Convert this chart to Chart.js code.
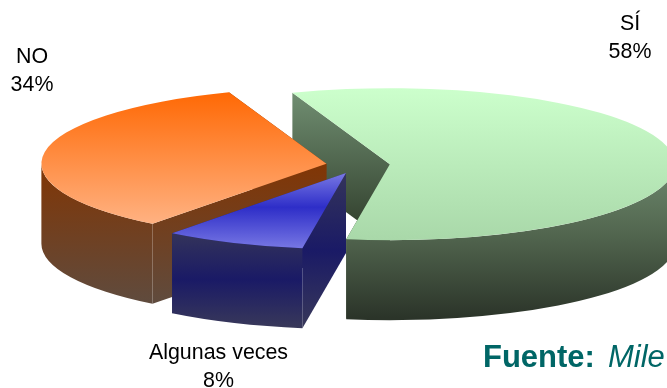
<!DOCTYPE html>
<html>
<head>
<meta charset="utf-8">
<script src="https://cdn.jsdelivr.net/npm/chart.js@4"></script>
<style>
  html, body { margin: 0; padding: 0; background: #fff; overflow: hidden; }
  canvas { display: block; }
</style>
</head>
<body>
<canvas id="pie" width="667" height="388"></canvas>
<script>
const labels = ['SÍ', 'Algunas veces', 'NO']
const values = [58, 8, 34]

// top face gradients: from/to are in ellipse units, -1 top edge, 1 bottom edge
const topFaces = [
  { from: -1, to: 1, stops: [[0, '#ccffcc'], [1, '#a9d8a9']] },
  { from: 0, to: 1, stops: [[0, '#7878e4'], [0.45, '#2e2ec8'], [1, '#7878e4']] },
  { from: -1, to: 0.75, stops: [[0, '#ff6600'], [1, '#ffb07f']] }
]
// side gradients, y in pixels
const outerWalls = [
  { y0: 165, y1: 318, stops: [[0, '#6c876c'], [0.45, '#52664f'], [1, '#2b3429']] },
  { y0: 232, y1: 327, stops: [[0, '#34345a'], [0.5, '#1a1a66'], [1, '#38385a']] },
  { y0: 160, y1: 304, stops: [[0, '#823503'], [1, '#5f4b3e']] }
]
const cutWalls = [
  { y0: 93, y1: 222, stops: [[0, '#708e71'], [1, '#354431']] },
  { y0: 173, y1: 327, stops: [[0, '#34345a'], [0.5, '#1a1a66'], [1, '#38385a']] },
  { y0: 160, y1: 304, stops: [[0, '#823503'], [1, '#5f4b3e']] }
]

const pieX = 359
const pieY = 165
const radiusX = 285
const radiusY = 76
const depth = 80
const explode = [31, 33, 33]
const paintOrder = [0, 2, 1]

const labelSpots = [
  { x: 630, y: 30 },
  { x: 218.5, y: 359 },
  { x: 32, y: 63 }
]

function vertical(ctx, w) {
  const g = ctx.createLinearGradient(0, w.y0, 0, w.y1)
  w.stops.forEach((s) => g.addColorStop(s[0], s[1]))
  return g
}

function topGradient(c) {
  const area = c.chart.chartArea
  if (!area) return '#ccc'
  const face = topFaces[c.dataIndex]
  const mid = (area.top + area.bottom) / 2
  const r = Math.min(area.right - area.left, area.bottom - area.top) / 2
  const g = c.chart.ctx.createLinearGradient(0, mid + face.from * r, 0, mid + face.to * r)
  face.stops.forEach((s) => g.addColorStop(s[0], s[1]))
  return g
}

function drawSlice(ctx, arc, i) {
  const mid = (arc.startAngle + arc.endAngle) / 2
  const cx = pieX + Math.cos(mid) * explode[i]
  const cy = pieY + Math.sin(mid) * explode[i] * radiusY / radiusX
  const ex = (a) => cx + Math.cos(a) * radiusX
  const ey = (a) => cy + Math.sin(a) * radiusY

  // cut faces
  ctx.fillStyle = vertical(ctx, cutWalls[i])
  ;[arc.startAngle, arc.endAngle].forEach((a) => {
    ctx.beginPath()
    ctx.moveTo(cx, cy)
    ctx.lineTo(ex(a), ey(a))
    ctx.lineTo(ex(a), ey(a) + depth)
    ctx.lineTo(cx, cy + depth)
    ctx.closePath()
    ctx.fill()
  })

  // rim, front half only
  const a0 = Math.max(arc.startAngle, 0)
  const a1 = Math.min(arc.endAngle, Math.PI)
  ctx.fillStyle = vertical(ctx, outerWalls[i])
  ctx.beginPath()
  ctx.ellipse(cx, cy, radiusX, radiusY, 0, a0, a1)
  ctx.ellipse(cx, cy + depth, radiusX, radiusY, 0, a1, a0, true)
  ctx.closePath()
  ctx.fill()

  // top face is the library's own arc, squashed
  ctx.save()
  ctx.translate(cx, cy)
  ctx.scale(radiusX / arc.outerRadius, radiusY / arc.outerRadius)
  ctx.translate(-arc.x, -arc.y)
  arc.draw(ctx)
  ctx.restore()
}

const pie3d = {
  id: 'pie3d',
  beforeDatasetDraw() {
    return false
  },
  afterDatasetsDraw(chart) {
    const arcs = chart.getDatasetMeta(0).data
    paintOrder.forEach((i) => drawSlice(chart.ctx, arcs[i], i))
  },
  afterDraw(chart) {
    const ctx = chart.ctx
    ctx.save()
    ctx.textBaseline = 'alphabetic'
    ctx.textAlign = 'center'
    ctx.fillStyle = '#000'
    ctx.font = '21.4px "Liberation Sans"'
    labels.forEach((name, i) => {
      ctx.fillText(name, labelSpots[i].x, labelSpots[i].y)
      ctx.fillText(values[i] + '%', labelSpots[i].x, labelSpots[i].y + 27.5)
    })
    ctx.textAlign = 'left'
    ctx.fillStyle = '#006666'
    ctx.font = 'bold 31px "Liberation Sans"'
    ctx.fillText('Fuente:', 483, 367)
    ctx.font = 'italic 31px "Liberation Sans"'
    ctx.fillText('Mile', 608, 367)
    ctx.restore()
  }
}

new Chart(document.getElementById('pie'), {
  type: 'pie',
  data: {
    labels: labels,
    datasets: [{
      data: values,
      backgroundColor: topGradient,
      borderWidth: 0
    }]
  },
  options: {
    responsive: false,
    animation: false,
    rotation: -20,
    plugins: {
      legend: { display: false },
      tooltip: { enabled: false }
    }
  },
  plugins: [pie3d]
})
</script>
</body>
</html>
